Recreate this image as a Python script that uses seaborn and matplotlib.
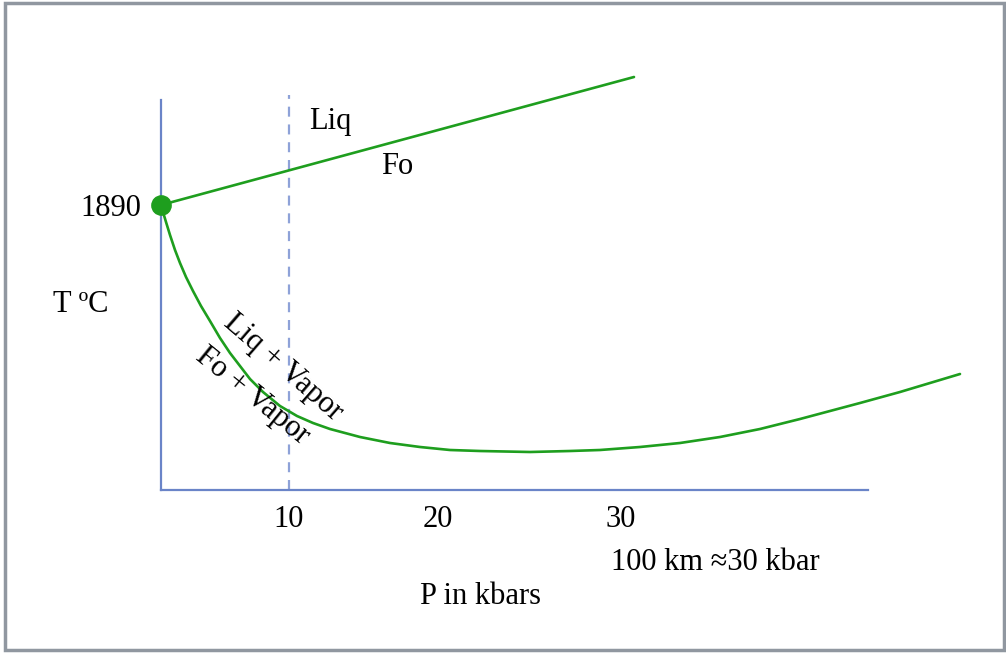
import numpy as np
import pandas as pd
import seaborn as sns
import matplotlib.pyplot as plt
from matplotlib.patches import Rectangle

# Schematic diagram units (x along the P axis, y above it)
liquidus_x = [0, 473]
liquidus_y = [285, 413]

vapor_x = [0, 2, 5, 9, 14, 19, 25, 32, 40, 49, 59, 69, 79, 89, 102, 119, 136,
           152, 169, 184, 199, 229, 259, 289, 319, 369, 409, 439, 479, 519,
           559, 599, 639, 669, 699, 739, 769, 799]
vapor_y = [285, 278, 268, 255, 240, 227, 213, 199, 184, 169, 152, 137, 124,
           111, 98, 84, 74, 67, 61, 57, 53, 47, 43, 40, 39, 38, 39, 40, 43,
           47, 53, 61, 71, 79, 87, 98, 107, 116]

invariant_x = [0]
invariant_y = [285]
invariant_label = ["1890"]

depth_x = [128, 128]
depth_y = [0, 395]

tick_pos = [128, 277, 460]
tick_labels = ["10", "20", "30"]

green = "#1e9e1e"
blue = "#6a84c8"

sns.set_theme(style="white")
plt.rcParams['font.family'] = ['Liberation Serif', 'DejaVu Serif']
plt.rcParams['text.color'] = 'black'
plt.rcParams['xtick.color'] = 'black'
plt.rcParams['ytick.color'] = 'black'

fig = plt.figure(figsize=(10.06, 6.53), dpi=100)
W, H = 1006, 653
ax = fig.add_axes([161 / W, (H - 490) / H, (868 - 161) / W, (490 - 100) / H])
ax.set_xlim(0, 707)
ax.set_ylim(0, 390)

# frame around the whole picture
fig.patches.append(Rectangle((5 / W, 3 / H), 999 / W, 647 / H, transform=fig.transFigure,
                             fill=False, edgecolor="#9097a0", lw=2.5))

for s in ["top", "right"]:
    ax.spines[s].set_visible(False)
for s in ["left", "bottom"]:
    ax.spines[s].set_color(blue)
    ax.spines[s].set_linewidth(1.6)

ax.plot(depth_x, depth_y, color="#8ea2d8", lw=1.6, ls=(0, (4.5, 3.5)), clip_on=False)

sns.lineplot(x=liquidus_x, y=liquidus_y, ax=ax, color=green, lw=1.9, clip_on=False,
             sort=False)
sns.lineplot(x=vapor_x, y=vapor_y, ax=ax, color=green, lw=1.9, clip_on=False, sort=False)
sns.scatterplot(x=invariant_x, y=invariant_y, ax=ax, color=green, s=190,
                edgecolor=green, zorder=5, clip_on=False)

fs = 22
ax.set_xticks(tick_pos)
ax.set_xticklabels(tick_labels)
ax.set_yticks(invariant_y)
ax.set_yticklabels(invariant_label)
ax.tick_params(axis="x", direction="in", length=9.5, width=1.4, color=blue,
               labelsize=fs, labelcolor="black", pad=11)
ax.tick_params(axis="y", length=0, labelsize=fs, labelcolor="black", pad=14)
ax.set_xlabel("")
ax.set_ylabel("")

ax.text(169, 368, "Liq", ha="center", va="center", fontsize=fs)
ax.text(236, 324, "Fo", ha="center", va="center", fontsize=fs)
ax.text(-80, 186, "T ºC", ha="center", va="center", fontsize=fs)
ax.text(122, 123, "Liq + Vapor", ha="center", va="center", fontsize=fs,
        rotation=-41, rotation_mode="anchor")
ax.text(91, 94, "Fo + Vapor", ha="center", va="center", fontsize=fs,
        rotation=-39, rotation_mode="anchor")
ax.text(554, -73, "100 km \u224830 kbar", ha="center", va="center", fontsize=fs,
        clip_on=False)
ax.text(319, -107, "P in kbars", ha="center", va="center", fontsize=fs, clip_on=False)

fig.savefig("out.png", dpi=100)
